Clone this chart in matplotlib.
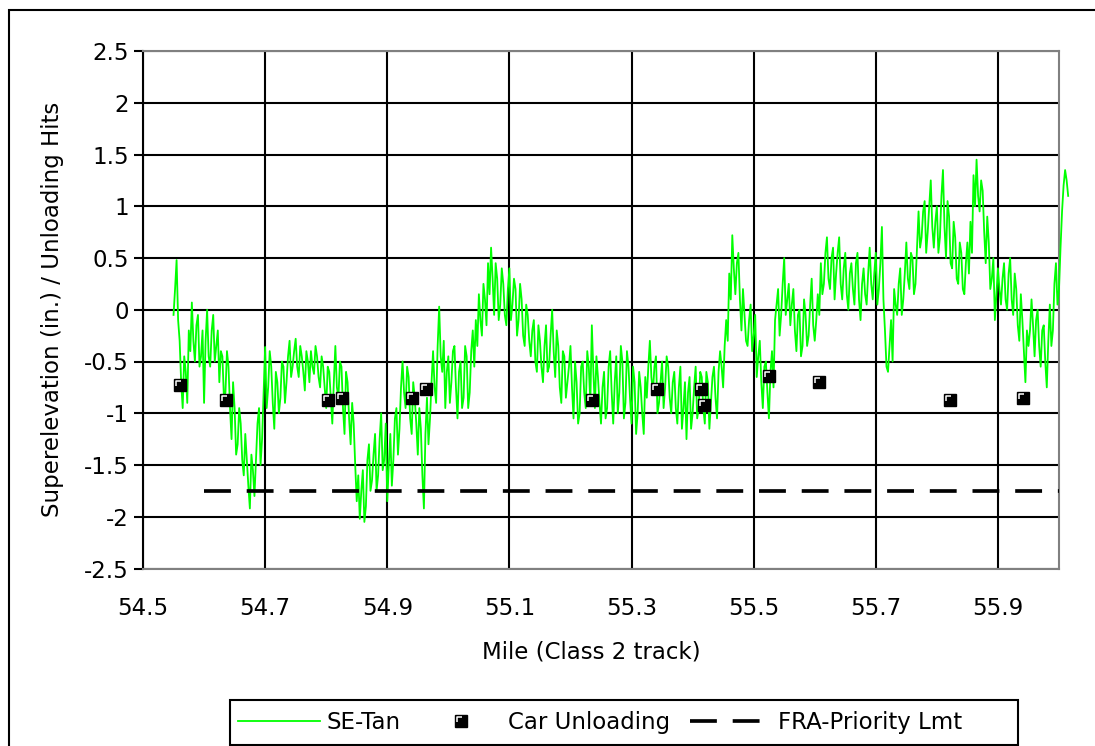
import numpy as np
import matplotlib
matplotlib.use('Agg')
import matplotlib.pyplot as plt
from matplotlib.path import Path
from matplotlib.patches import Rectangle
from matplotlib.legend_handler import HandlerTuple

plt.rcParams['font.family'] = ['DejaVu Sans']
plt.rcParams['axes.unicode_minus'] = False

FONT_SIZE = 16.5
W, H = 1095, 746

# SE-Tan readings every 0.005 mile from mile 54.55 ...
mile_start = 54.55
mile_step = 0.005
se_tan = [
    -0.05, 0.48, -0.30, -0.95, -0.60, -0.20, 0.07, -0.50, -0.05, -0.45,
    -0.90, 0.00, -0.55, -0.05, -0.35, -0.70, -0.45, -0.80, -0.55, -1.25,
    -0.95, -1.30, -1.10, -1.60, -1.45, -1.92, -1.55, -1.45, -0.95, -1.25,
    -0.36, -0.75, -0.55, -1.15, -0.70, -0.85, -0.55, -0.70, -0.30, -0.55,
    -0.28, -0.65, -0.45, -0.78, -0.50, -0.40, -0.62, -0.45, -0.75, -0.55,
    -0.95, -0.60, -1.10, -0.35, -0.85, -0.55, -1.20, -0.70, -1.30, -1.10,
    -1.85, -2.02, -1.55, -1.90, -1.30, -1.65, -1.20, -1.60, -1.00, -1.45,
    -1.85, -1.20, -1.45, -0.95, -1.15, -0.50, -0.95, -0.65, -1.20, -0.85,
    -1.40, -1.15, -1.92, -0.85, -1.05, -0.40, -0.90, 0.03, -0.60, -0.95,
    -0.45, -0.70, -0.35, -1.05, -0.50, -0.85, -0.45, -0.80, -0.20, -0.10,
    0.15, -0.25, 0.10, 0.45, 0.60, -0.05, 0.30, 0.05, 0.25, -0.15,
    0.40, 0.05, 0.20, -0.10, 0.10, -0.35, -0.05, -0.45, -0.10, -0.60,
    -0.30, -0.70, -0.15, -0.55, 0.00, -0.65, -0.35, -0.90, -0.45, -0.70,
    -0.35, -1.05, -0.70, -1.00, -0.50, -0.95, -0.55, -0.15, -0.95, -0.65,
    -1.10, -0.60, -0.95, -0.40, -1.10, -0.45, -0.80, -0.50, -0.90, -0.55,
    -1.10, -0.70, -1.00, -0.75, -1.20, -0.85, -0.30, -0.80, -0.45, -0.90,
    -0.50, -0.75, -0.55, -1.00, -0.60, -1.10, -0.55, -0.95, -1.25, -0.65,
    -1.00, -0.55, -0.95, -0.65, -1.10, -0.70, -0.90, -0.55, -1.05, -0.40,
    -0.75, -0.10, 0.35, 0.72, 0.15, 0.55, -0.20, -0.05, -0.35, 0.05,
    -0.25, -0.65, -0.30, -0.95, -0.50, -1.05, -0.40, -0.10, 0.20, -0.05,
    0.50, 0.10, -0.15, 0.20, -0.40, 0.00, -0.35, -0.05, -0.25, 0.30,
    -0.30, 0.15, 0.45, 0.25, 0.70, 0.20, 0.60, 0.35, 0.70, 0.10,
    0.55, 0.00, 0.45, 0.05, 0.55, -0.10, 0.40, 0.05, 0.60, 0.10,
    0.55, 0.20, 0.80, -0.20, -0.60, -0.10, 0.20, -0.05, 0.40, 0.10,
    0.65, 0.20, 0.50, 0.25, 0.95, 0.70, 1.05, 0.75, 1.25, 0.60,
    1.00, 0.70, 1.35, 0.50, 0.90, 0.40, 0.70, 0.25, 0.55, 0.15,
    0.65, 0.85, 1.30, 1.45, 0.95, 1.15, 0.45, 0.65, 0.30, -0.10,
    0.40, 0.05, 0.45, 0.00, 0.50, -0.05, 0.20, -0.30, -0.10, -0.70,
    -0.35, 0.10, -0.45, 0.00, -0.55, -0.15, -0.75, 0.05, -0.20, 0.45,
    0.20, 0.95, 1.35, 1.10,
]
# ... and the readings half way between them (mile 54.5525, 54.5575, ...)
se_tan_mid = [
    0.20, -0.10, -0.70, -0.45, -0.90, -0.40, -0.30, -0.15, -0.55, -0.20,
    -0.30, -0.45, -0.20, -0.50, -0.20, -0.40, -0.85, -0.40, -0.95, -0.70,
    -1.40, -0.95, -1.45, -1.20, -1.70, -1.40, -1.80, -1.10, -1.50, -0.80,
    -0.95, -0.40, -0.90, -0.60, -1.00, -0.50, -0.90, -0.45, -0.65, -0.40,
    -0.55, -0.35, -0.60, -0.40, -0.70, -0.55, -0.35, -0.65, -0.45, -0.75,
    -0.55, -0.85, -0.70, -0.75, -0.50, -0.95, -0.60, -1.05, -0.90, -1.50,
    -1.60, -1.75, -2.05, -1.45, -1.75, -1.40, -1.75, -1.25, -1.55, -1.10,
    -1.50, -1.70, -1.05, -1.40, -0.75, -0.80, -0.55, -1.05, -0.70, -1.10,
    -0.95, -1.60, -1.20, -1.30, -0.70, -0.75, -0.35, -0.45, -0.30, -0.60,
    -0.90, -0.40, -0.75, -0.60, -0.95, -0.35, -0.95, -0.40, -0.55, -0.35,
    -0.10, 0.25, -0.15, 0.15, 0.30, 0.45, -0.10, 0.40, -0.05, 0.20,
    -0.10, 0.30, -0.25, 0.25, -0.25, 0.05, -0.30, -0.20, -0.50, -0.15,
    -0.55, -0.35, -0.60, -0.25, -0.40, -0.20, -0.75, -0.40, -0.85, -0.55,
    -0.75, -0.50, -1.10, -0.55, -0.80, -0.40, -0.90, -0.60, -0.45, -0.90,
    -0.75, -1.05, -0.55, -0.80, -0.70, -1.00, -0.35, -1.05, -0.40, -0.85,
    -0.55, -1.20, -0.60, -1.00, -0.65, -0.55, -0.65, -0.55, -1.00, -0.70,
    -0.95, -0.45, -0.85, -0.70, -0.95, -0.75, -1.15, -0.70, -0.80, -1.15,
    -0.75, -1.05, -0.60, -0.95, -0.60, -1.15, -0.65, -0.85, -0.60, -0.55,
    -0.35, -0.30, 0.10, 0.40, 0.45, 0.10, 0.20, -0.30, -0.10, -0.40,
    -0.05, -0.45, -0.70, -0.55, -0.80, -0.60, -0.75, 0.05, -0.25, 0.25,
    -0.05, 0.25, 0.05, -0.20, -0.05, -0.45, 0.10, -0.35, 0.05, -0.15,
    -0.10, -0.05, 0.15, 0.55, 0.30, 0.50, 0.10, 0.55, 0.25, 0.40,
    0.15, 0.35, 0.20, 0.45, 0.10, 0.25, 0.15, 0.35, 0.25, 0.35,
    0.05, 0.45, 0.10, -0.55, -0.35, -0.50, 0.05, 0.25, -0.05, 0.35,
    0.30, 0.55, 0.15, 0.60, 0.60, 0.95, 0.55, 1.00, 0.80, 0.85,
    0.55, 1.10, 0.80, 1.05, 0.45, 0.85, 0.30, 0.65, 0.20, 0.45,
    0.35, 0.55, 1.00, 1.10, 1.25, 0.75, 0.90, 0.20, 0.50, 0.15,
    0.20, 0.30, 0.10, 0.35, 0.10, 0.35, -0.15, 0.15, -0.40, -0.20,
    -0.20, -0.15, -0.10, -0.35, -0.20, -0.50, -0.30, -0.35, 0.25, 0.05,
    0.60, 1.20, 1.25,
]

# merge both sets into one track profile
se_val = np.empty(len(se_tan) + len(se_tan_mid))
se_val[0::2] = se_tan
se_val[1::2] = se_tan_mid
se_mile = mile_start + mile_step / 2 * np.arange(len(se_val))

# car unloading hits
unload_mile = [54.561, 54.636, 54.803, 54.826, 54.941, 54.963, 55.235,
               55.342, 55.413, 55.418, 55.525, 55.607, 55.821, 55.941]
unload_val = [-0.73, -0.87, -0.87, -0.85, -0.85, -0.77, -0.87,
              -0.77, -0.77, -0.92, -0.64, -0.70, -0.87, -0.85]

# FRA priority limit
fra_mile = [54.6, 56.0]
fra_val = [-1.75, -1.75]

x_ticks = [54.5, 54.7, 54.9, 55.1, 55.3, 55.5, 55.7, 55.9]
x_labels = ['54.5', '54.7', '54.9', '55.1', '55.3', '55.5', '55.7', '55.9']
y_ticks = [-2.5, -2, -1.5, -1, -0.5, 0, 0.5, 1, 1.5, 2, 2.5]
y_labels = ['-2.5', '-2', '-1.5', '-1', '-0.5', '0', '0.5', '1', '1.5', '2', '2.5']

fig = plt.figure(figsize=(W / 100, H / 100), dpi=100)
ax = fig.add_axes([143 / W, 1 - 568.5 / H, 916 / W, 517.5 / H])

# outer chart border (runs off the right/bottom edge)
fig.patches.append(Rectangle((9 / W, -0.2), 1.2, 1.2 - 10 / H, transform=fig.transFigure,
                             fill=False, edgecolor='black', lw=1.5))

line_se, = ax.plot(se_mile, se_val, color='#00ff00', lw=1.3, clip_on=False, zorder=3)

# Excel-style marker: black square with a white inner corner
corner = Path([(-1.0, -0.35), (-1.0, 1.0), (0.35, 1.0)],
              [Path.MOVETO, Path.LINETO, Path.LINETO])
sq, = ax.plot(unload_mile, unload_val, ls='none', marker='s', ms=8.5,
              mfc='black', mec='black', mew=1, zorder=4, clip_on=False)
cn, = ax.plot(unload_mile, unload_val, ls='none', marker=corner, ms=5.2,
              mfc='none', mec='white', mew=1.1, zorder=5, clip_on=False)

line_fra, = ax.plot(fra_mile, fra_val, color='black', lw=2.65, dashes=(7.3, 4.3), zorder=3)

ax.set_xlim(54.5, 56.0)
ax.set_ylim(-2.5, 2.5)
ax.set_xticks(x_ticks)
ax.set_xticklabels(x_labels)
ax.set_yticks(y_ticks)
ax.set_yticklabels(y_labels)

ax.set_axisbelow(True)
ax.grid(True, color='black', lw=1.5)
ax.tick_params(axis='x', length=0, pad=20.5, labelsize=FONT_SIZE)
ax.tick_params(axis='y', direction='out', length=6.5, width=1.5, pad=3.6,
               labelsize=FONT_SIZE, color='black')

for side in ['top', 'right', 'bottom']:
    ax.spines[side].set_color('#808080')
    ax.spines[side].set_linewidth(1.5)
ax.spines['left'].set_color('black')
ax.spines['left'].set_linewidth(1.5)

ax.set_xlabel('Mile (Class 2 track)', fontsize=FONT_SIZE)
ax.xaxis.set_label_coords(0.489, -0.140)
ax.set_ylabel('Superelevation (in.) / Unloading Hits', fontsize=FONT_SIZE)
ax.yaxis.set_label_coords(-0.086, 0.5)

# legend box drawn by hand so it spans the same width as the original
fig.patches.append(Rectangle((230 / W, 1 - 745 / H), 788 / W, 45 / H, transform=fig.transFigure,
                             fill=False, edgecolor='black', lw=1.5))
leg = fig.legend([line_se, (sq, cn), line_fra], ['SE-Tan', 'Car Unloading', 'FRA-Priority Lmt'],
                 handler_map={tuple: HandlerTuple(ndivide=1, pad=0)},
                 loc='center left', bbox_to_anchor=(238 / W, 1 - 722.5 / H), ncol=3,
                 fontsize=FONT_SIZE, frameon=False, borderaxespad=0, borderpad=0,
                 handlelength=3.58, handletextpad=0.26, columnspacing=0.87)

fig.savefig('out.png', dpi=100)
